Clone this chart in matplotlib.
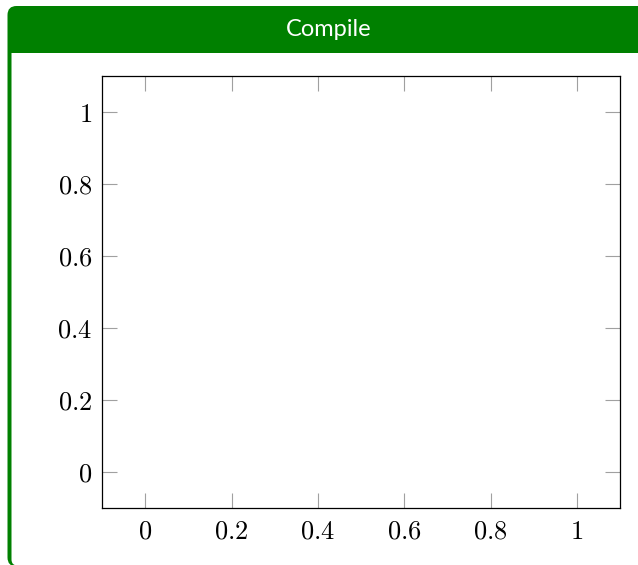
import matplotlib
matplotlib.use("Agg")
import matplotlib.pyplot as plt
from matplotlib.patches import FancyBboxPatch, Rectangle

# Data (empty axis: only ticks)
x_ticks = [0, 0.2, 0.4, 0.6, 0.8, 1]
x_labels = ["0", "0.2", "0.4", "0.6", "0.8", "1"]
y_ticks = [0, 0.2, 0.4, 0.6, 0.8, 1]
y_labels = ["0", "0.2", "0.4", "0.6", "0.8", "1"]
title_text = "Compile"

plt.rcParams['mathtext.fontset'] = 'cm'

W, H = 638, 565
fig = plt.figure(figsize=(W / 100, H / 100), dpi=100)
GREEN = "#008000"

def fx(px):
    return px / W

def fy(py_from_top):
    return 1 - py_from_top / H

# Outer green rounded box (bottom and right edges fall outside the image)
outer = FancyBboxPatch((fx(7.5), fy(566.5)), fx(700), fy(6) - fy(566.5),
                       boxstyle="round,pad=0,rounding_size=%f" % fx(9),
                       transform=fig.transFigure, facecolor=GREEN, edgecolor="none",
                       mutation_aspect=W / H, zorder=0)
fig.patches.append(outer)
inner = FancyBboxPatch((fx(11.5), fy(565.5)), fx(700), fy(40) - fy(565.5),
                       boxstyle="round,pad=0,rounding_size=%f" % fx(6),
                       transform=fig.transFigure, facecolor="white", edgecolor="none",
                       mutation_aspect=W / H, zorder=1)
fig.patches.append(inner)
bar = Rectangle((fx(7.5), fy(53)), fx(700), fy(14) - fy(53),
                transform=fig.transFigure, facecolor=GREEN, edgecolor="none", zorder=2)
fig.patches.append(bar)
fig.text(fx(329), fy(30), title_text, color="white", fontsize=17,
         family="Lato", ha="center", va="center", zorder=3)

left, right, top, bottom = 102, 620, 75.7, 507.7
ax = fig.add_axes([fx(left), fy(bottom), fx(right - left), fy(top) - fy(bottom)])
ax.set_zorder(5)
ax.set_xlim(-0.1, 1.1)
ax.set_ylim(-0.1, 1.1)
ax.set_xticks(x_ticks)
ax.set_xticklabels(["$%s$" % s for s in x_labels])
ax.set_yticks(y_ticks)
ax.set_yticklabels(["$%s$" % s for s in y_labels])
ax.tick_params(direction="in", length=11, width=0.8, color="#a0a0a0",
               labelsize=19, pad=7, top=True, right=True, labelcolor="black")
ax.tick_params(axis="x", pad=8)
for sp in ax.spines.values():
    sp.set_linewidth(0.9)
    sp.set_color("black")

fig.savefig("out.png", dpi=100)
